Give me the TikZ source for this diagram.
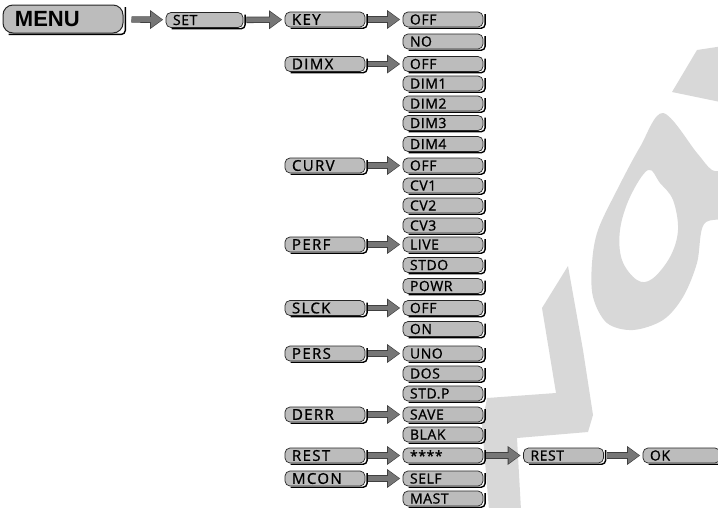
\documentclass[tikz,border=0pt]{standalone}
\usepackage{fontspec}
\usetikzlibrary{arrows.meta}
\newfontfamily\itemfont[LetterSpace=4,FakeBold=1]{Open Sans}
\newfontfamily\labfont[LetterSpace=9,FakeBold=1]{Open Sans}
\newfontfamily\menufont{Liberation Sans}
\definecolor{boxgray}{RGB}{188,188,188}
\definecolor{arrowgray}{RGB}{118,118,118}
\definecolor{markgray}{RGB}{216,216,216}

\begin{document}
\begin{tikzpicture}[x=1pt,y=-1pt,thick]
	\tikzset{item/.style = {rectangle, rounded corners=5pt, fill=boxgray, draw=black!85,
			line width=0.7pt, minimum height=15pt, text width=66pt, inner xsep=7pt, inner ysep=0pt,
			align=left, font=\itemfont\fontsize{14}{15}\selectfont,
			append after command={\pgfextra{\draw[black, line width=1.4pt, rounded corners=4pt]
					([xshift=1.8pt,yshift=-2.5pt]\tikzlastnode.north east)
					-- ([xshift=1.8pt,yshift=-0.9pt]\tikzlastnode.south east)
					-- ([xshift=6pt,yshift=-0.9pt]\tikzlastnode.south west);}}}}
	\tikzset{funcname/.style = {font=\labfont\fontsize{15}{16}\selectfont}}
	\tikzset{link/.style = {draw=arrowgray, line width=4.8pt, shorten <=3pt, shorten >=3.5pt,
			-{Triangle[length=11pt,width=15pt]},
			preaction={draw=black!75, line width=6.4pt, shorten >=2.5pt,
				-{Triangle[length=13pt,width=18pt]}}}}
	\useasboundingbox (0,0) rectangle (718,507);
	
	% watermark in the background
	\fill[markgray] (672,92) -- (697,50) -- (730,45) -- (730,104) -- cycle;
	\fill[markgray, even odd rule]
		plot[smooth cycle, tension=0.55] coordinates {(663,113) (697,153) (712,170) (730,175)
			(730,215) (704,224) (697,263) (683,297) (663,320) (633,330) (607,323) (593,297)
			(592,263) (598,230) (617,190) (640,147)}
		plot[smooth cycle, tension=0.6] coordinates {(648,170) (630,197) (620,230) (622,260)
			(637,280) (652,279) (670,257) (678,230) (673,200) (660,183)};
	\fill[markgray] (568,266) -- (542,308) -- (556,393) -- (487,398) -- (482,425)
		-- (489,510) -- (521,510) -- (517,438) -- (588,432) -- (593,415) -- (583,350) -- cycle;
	
	% menu and set
	\node[item, rounded corners=10pt, minimum height=28pt, text width=96pt, inner xsep=12pt,
		line width=1pt, font=\menufont\bfseries\fontsize{22}{24}\selectfont] (menu) at (63,19) {MENU};
	\node[item, text width=63pt] (set) at (204.5,20) {SET};
	\draw[link, shorten <=8pt] (menu) -- (set);
	
	% values
	\foreach \y/\t [count=\i] in {19.5/OFF, 41.5/NO, 64/OFF, 83.5/DIM1, 103.5/DIM2, 123/DIM3,
			144/DIM4, 165.5/OFF, 185.5/CV1, 205.5/CV2, 225.5/CV3, 244.5/LIVE, 265/STDO,
			286/POWR, 308/OFF, 329/ON, 353.5/UNO, 373.5/DOS, 393.5/STD.P, 414.5/SAVE,
			434.5/BLAK, 455.5/****, 478.5/SELF, 498.5/MAST}
		\node[item] (v\i) at (443,\y) {\t};
	
	% functions and arrows
	\foreach \y/\t/\i in {19.5/KEY/1, 64/DIMX/3, 165.5/CURV/8, 244.5/PERF/12, 308/SLCK/15,
			353.5/PERS/17, 414.5/DERR/20, 455.5/REST/22, 478.5/MCON/23} {
		\node[item, funcname] (\t) at (325,\y) {\t};
		\draw[link] (\t) -- (v\i);
	}
	\draw[link] (set) -- (KEY);
	
	% reset confirmation
	\node[item] (rest2) at (563.5,455.5) {REST};
	\node[item, text width=63pt] (ok) at (681.5,455.5) {OK};
	\draw[link] (v22) -- (rest2);
	\draw[link] (rest2) -- (ok);
\end{tikzpicture}
\end{document}
